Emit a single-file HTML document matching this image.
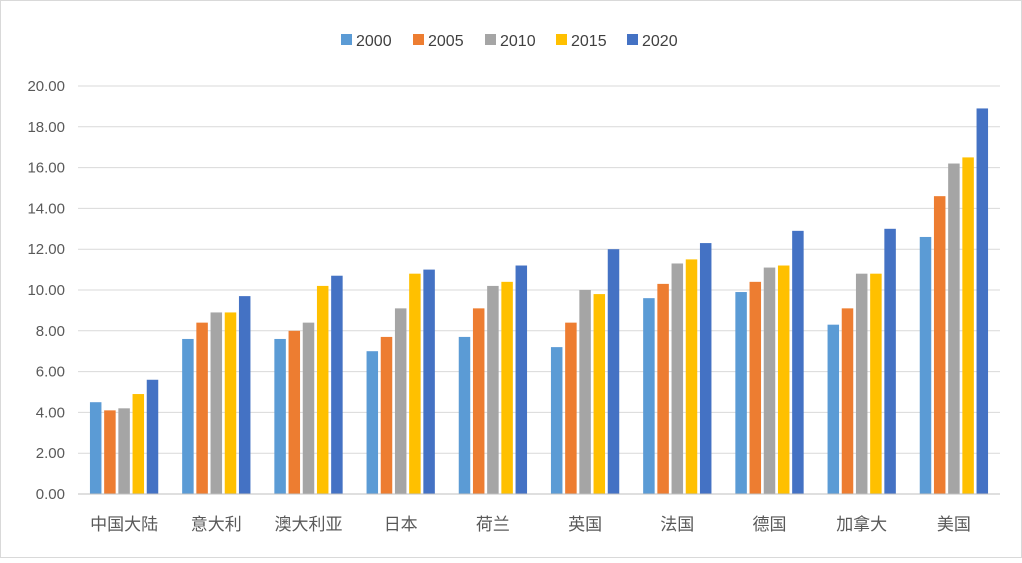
<!DOCTYPE html>
<html><head><meta charset="utf-8">
<style>
html,body{margin:0;padding:0;background:#fff;}
svg text{font-family:"Liberation Sans","Noto Sans CJK SC",sans-serif;}
</style></head>
<body>
<svg id="chart" width="1022" height="558" xmlns="http://www.w3.org/2000/svg">
<rect x="0.5" y="0.5" width="1021" height="557" fill="#fff" stroke="#d9d9d9"/>
<g id="grid"></g>
<g id="bars"></g>
<g id="axes"></g>
<g id="legend"></g>
</svg>
<script>
const categories=["中国大陆","意大利","澳大利亚","日本","荷兰","英国","法国","德国","加拿大","美国"];
const seriesNames=["2000","2005","2010","2015","2020"];
const s2000=[4.5,7.6,7.6,7.0,7.7,7.2,9.6,9.9,8.3,12.6];
const s2005=[4.1,8.4,8.0,7.7,9.1,8.4,10.3,10.4,9.1,14.6];
const s2010=[4.2,8.9,8.4,9.1,10.2,10.0,11.3,11.1,10.8,16.2];
const s2015=[4.9,8.9,10.2,10.8,10.4,9.8,11.5,11.2,10.8,16.5];
const s2020=[5.6,9.7,10.7,11.0,11.2,12.0,12.3,12.9,13.0,18.9];
const yTicks=[0,2,4,6,8,10,12,14,16,18,20];
const series=[s2000,s2005,s2010,s2015,s2020];
const colors=["#5B9BD5","#ED7D31","#A5A5A5","#FFC000","#4472C4"];
const NS="http://www.w3.org/2000/svg";
const x0=78,x1=1000,yBase=494,yTop=86,yMax=20;
const yScale=v=>yBase-(v/yMax)*(yBase-yTop);
const band=(x1-x0)/categories.length;
const xCenter=i=>x0+band*(i+0.5);
const bw=11.5,gap=2.7;
function mk(tag,attrs,parent){const e=document.createElementNS(NS,tag);for(const k in attrs)e.setAttribute(k,attrs[k]);parent.appendChild(e);return e;}
const grid=document.getElementById('grid'),bars=document.getElementById('bars'),axes=document.getElementById('axes'),legend=document.getElementById('legend');
yTicks.forEach(t=>{
  const y=yScale(t);
  if(t>0){const l=mk('line',{x1:x0,x2:x1,y1:y,y2:y,stroke:'#d9d9d9','stroke-width':1},grid);
  
  }
  const tx=mk('text',{x:65,y:y+5,'text-anchor':'end','font-size':15,fill:'#595959'},axes);
  tx.textContent=t.toFixed(2);
  
  
});
const ax=mk('line',{x1:x0,x2:x1,y1:yBase,y2:yBase,stroke:'#bfbfbf','stroke-width':1},axes);


const groupW=5*bw+4*gap;
categories.forEach((c,i)=>{
  const cx=xCenter(i);
  series.forEach((s,j)=>{
    const x=cx-groupW/2+j*(bw+gap);
    const y=yScale(s[i]);
    const r=mk('rect',{x:x,y:y,width:bw,height:yBase-y,fill:colors[j]},bars);
    
    
  });
  const tx=mk('text',{x:cx,y:530,'text-anchor':'middle','font-size':17,fill:'#595959'},axes);
  tx.textContent=c;
  
  
});
const legX=[341,413,485,556,627];
seriesNames.forEach((n,j)=>{
  const r=mk('rect',{x:legX[j],y:34,width:11,height:11,fill:colors[j]},legend);
  
  
  const t=mk('text',{x:legX[j]+15,y:46,'font-size':16,fill:'#404040'},legend);
  t.textContent=n;
  
  
});
</script>
</body></html>
